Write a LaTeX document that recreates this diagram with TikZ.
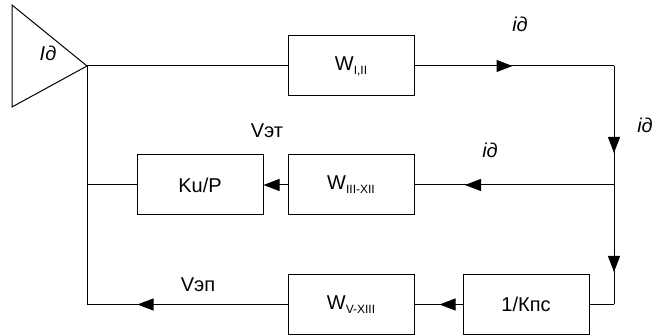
\documentclass[tikz,border=0pt]{standalone}
\usepackage{fontspec}
\setmainfont{Liberation Sans}
\usetikzlibrary{arrows.meta,decorations.markings}
\newcommand\mysub[1]{{\fontsize{12}{12}\selectfont\raisebox{-4pt}{#1}}}
\tikzset{
  blk/.style={draw, line width=1pt, minimum width=126pt, minimum height=60pt, inner sep=0pt, font=\fontsize{20}{20}\selectfont},
  wire/.style={line width=1pt},
  endarrow/.style={-{Triangle[length=16pt,width=12pt]}},
  midarrow/.style={postaction={decorate}, decoration={markings, mark=at position #1 with {\arrow{Triangle[length=16pt,width=12pt]}}}},
  lbl/.style={font=\fontsize{20}{20}\selectfont\itshape, inner sep=0pt},
  txt/.style={font=\fontsize{20}{20}\selectfont, inner sep=0pt}
}
\begin{document}
\begin{tikzpicture}[x=1pt,y=-1pt]
\useasboundingbox (0,0) rectangle (654,336);
% amplifier triangle
\draw[wire] (12,5) -- (12,107) -- (87,66) -- cycle;
\coordinate (tip) at (87,66);
\node[lbl] (itri) at (48,53) {Iд};
% blocks
\node[blk] (w1) at (351,66) {W\mysub{I,II}};
\node[blk] (w3) at (351,185) {W\mysub{III-XII}};
\node[blk] (ku) at (200,185) {Ku/P};
\node[blk] (wv) at (351,304.5) {W\mysub{V-XIII}};
\node[blk] (kps) at (526,304.5) {1/Кпс};
% corners / junctions
\coordinate (c1) at (614,66);
\coordinate (j1) at (614,185);
\coordinate (c3) at (614,304.5);
\coordinate (j2) at (87,185);
\coordinate (c2) at (87,304.5);
% connectors
\draw[wire] (tip) -- (w1.west);
\draw[wire, midarrow=98pt] (w1.east) -- (c1);
\draw[wire, midarrow=87pt] (c1) -- (j1);
\draw[wire, midarrow=149pt] (j1) -- (w3.east);
\draw[wire, endarrow] (w3.west) -- (ku.east);
\draw[wire] (ku.west) -- (j2);
\draw[wire] (tip) -- (c2);
\draw[wire, midarrow=150pt] (wv.west) -- (c2);
\draw[wire, midarrow=87pt] (j1) -- (c3);
\draw[wire] (c3) -- (kps.east);
\draw[wire, midarrow=23pt] (kps.west) -- (wv.east);
% labels
\node[lbl] (l1) at (520,24) {iд};
\node[lbl] (l2) at (645,125) {iд};
\node[lbl] (l3) at (490,150) {iд};
\node[txt] (vet) at (267,131) {Vэт};
\node[txt] (vep) at (198,285) {Vэп};
\end{tikzpicture}
\end{document}
